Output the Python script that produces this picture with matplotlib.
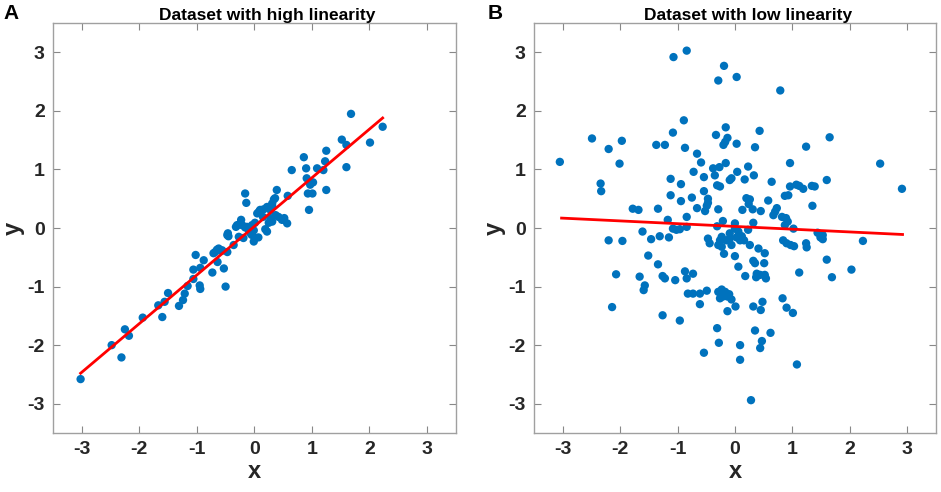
import numpy as np
import matplotlib
matplotlib.use("Agg")
import matplotlib.pyplot as plt

plt.rcParams['font.family'] = ['Liberation Sans', 'DejaVu Sans']

# panel A: high linearity
xa = [-3.02, -2.48, -2.31, -2.25, -2.18, -1.94, -1.67, -1.60, -1.56, -1.50,
      -1.31, -1.24, -1.21, -1.16, -1.06, -1.06, -1.02, -0.95, -0.94, -0.94,
      -0.88, -0.73, -0.71, -0.68, -0.65, -0.64, -0.62, -0.57, -0.53, -0.50,
      -0.47, -0.46, -0.45, -0.36, -0.32, -0.30, -0.27, -0.25, -0.23, -0.21,
      -0.19, -0.16, -0.14, -0.16, -0.13, -0.10, -0.06, -0.04, -0.04, -0.01,
      -0.01, 0.01, 0.05, 0.07, 0.08, 0.10, 0.15, 0.16, 0.19, 0.22,
      0.22, 0.25, 0.28, 0.28, 0.31, 0.31, 0.31, 0.34, 0.36, 0.37,
      0.39, 0.42, 0.48, 0.52, 0.57, 0.58, 0.65, 0.86, 0.90, 0.91,
      0.93, 0.95, 0.97, 1.01, 1.02, 1.09, 1.20, 1.23, 1.25, 1.25,
      1.52, 1.60, 1.60, 1.68, 2.01, 2.23, -0.56, -0.47]
ya = [-2.58, -2.00, -2.21, -1.73, -1.84, -1.53, -1.32, -1.52, -1.26, -1.11,
      -1.33, -1.23, -1.12, -0.99, -0.87, -0.71, -0.46, -0.98, -1.04, -0.68,
      -0.55, -0.76, -0.43, -0.41, -0.37, -0.58, -0.35, -0.39, -0.69, -1.00,
      -0.41, -0.09, -0.14, -0.29, 0.02, 0.05, -0.15, 0.06, 0.14, 0.05,
      -0.17, 0.59, 0.43, 0.01, 0.02, -0.03, -0.10, 0.05, -0.12, -0.23,
      -0.04, 0.09, 0.25, -0.16, 0.28, 0.31, 0.19, 0.32, -0.02, -0.06,
      0.36, 0.09, 0.17, 0.31, 0.37, 0.42, 0.11, 0.49, 0.51, 0.22,
      0.65, 0.19, 0.14, 0.17, 0.08, 0.55, 0.99, 1.21, 1.02, 0.85,
      0.59, 0.31, 0.74, 0.59, 0.78, 1.02, 0.99, 1.14, 1.32, 0.65,
      1.51, 1.42, 1.04, 1.95, 1.46, 1.73, -0.38, -0.12]
fit_a_x = [-3.02, 2.23]
fit_a_y = [-2.48, 1.88]

# panel B: low linearity
xb = [-1.07, -0.84, -0.19, -0.29, 0.03, 0.79, -0.89, -0.16, 0.43, -2.49,
      -1.08, -0.33, -0.13, 1.65, -1.97, -2.20, -1.37, -1.22, -0.87, -0.20,
      -0.17, 0.03, 0.35, 1.24,
      -3.05, -2.01, -0.66, -0.59, -0.16, 0.96, 2.53, -0.38, -0.27, 0.23,
      -0.72, 0.04, -0.35, 0.33, -0.54, -0.06, -0.09, 0.17, -1.12, 0.64,
      1.60, -2.34, -2.33, -0.94, -0.31, -0.26, 0.96, 1.07, 1.12, 1.19,
      1.34, 1.39, 2.91, -0.54,
      -1.12, 0.87, 0.93, -0.75, -0.47, 0.20, 0.26, -0.94, 0.58, 0.24,
      -0.49, -0.47, 1.35, -0.66, -1.78, -1.68, -1.34, -0.29, -0.52, 0.13,
      0.31, 0.45, 0.73, 0.70, 0.67,
      -0.84, 0.82, 0.89, -1.17, -0.21, 0.92, 0.32, 0.00, -0.31, -0.84,
      -1.08, -1.02, -0.96, 0.87, 1.02, 0.00, 0.06, 0.23, -1.61, -0.09,
      0.12, -1.31, -1.15, -1.46, -0.47, -0.23, -0.26, -0.15, -0.09, 0.03,
      0.09, 0.16, 1.44, 1.53, 1.49, 1.53, -2.20, -1.96, 2.23,
      -0.44, 0.84, 0.90, 0.97, 1.03, 1.24, 1.25, -0.29, -0.23, -0.06,
      0.26, 0.41, -0.19, 0.52, -1.51, 0.00, 1.60, 0.32, 0.35, -1.34,
      0.51, 0.06,
      2.03, -2.07, -0.87, -0.73, -0.84, 1.12, 0.38, 0.44, 0.52, 0.54,
      0.37, 0.18, -1.26, -1.22, -1.66, 1.69, -1.04, -1.57,
      -1.59, -0.49, -0.29, -0.23, -0.17, -0.26, -0.21, -0.13, -0.06, -0.10,
      -0.82, -0.73, -0.61, 0.83, -0.61, 0.48, 0.01, 0.32, -2.14, 0.90,
      0.45, -0.13, 1.01, -1.26,
      -0.96, -0.31, 0.35, 0.62, -0.28, 0.47, 0.09, 0.44, -0.54, 0.09,
      1.08, 0.28]
yb = [2.92, 3.03, 2.77, 2.52, 2.58, 2.35, 1.84, 1.72, 1.66, 1.53,
      1.63, 1.59, 1.54, 1.55, 1.49, 1.35, 1.42, 1.42, 1.37, 1.42,
      1.47, 1.44, 1.38, 1.39,
      1.13, 1.10, 1.27, 1.12, 1.11, 1.11, 1.10, 1.02, 1.04, 1.05,
      0.96, 0.96, 0.90, 0.90, 0.87, 0.85, 0.82, 0.83, 0.84, 0.79,
      0.82, 0.76, 0.63, 0.75, 0.73, 0.71, 0.71, 0.74, 0.72, 0.67,
      0.72, 0.71, 0.67, 0.63,
      0.56, 0.55, 0.56, 0.52, 0.50, 0.51, 0.49, 0.46, 0.47, 0.41,
      0.38, 0.43, 0.38, 0.34, 0.33, 0.31, 0.33, 0.32, 0.29, 0.31,
      0.32, 0.29, 0.34, 0.28, 0.22,
      0.19, 0.19, 0.17, 0.14, 0.12, 0.11, 0.09, 0.08, 0.03, 0.02,
      -0.01, -0.03, -0.02, 0.05, -0.01, -0.01, -0.06, -0.03, -0.06, -0.09,
      -0.14, -0.14, -0.16, -0.19, -0.18, -0.15, -0.21, -0.21, -0.18, -0.16,
      -0.21, -0.21, -0.08, -0.12, -0.16, -0.19, -0.21, -0.22, -0.22,
      -0.26, -0.21, -0.26, -0.29, -0.31, -0.26, -0.33, -0.29, -0.32, -0.29,
      -0.29, -0.35, -0.44, -0.43, -0.47, -0.48, -0.54, -0.56, -0.60, -0.62,
      -0.60, -0.66,
      -0.71, -0.79, -0.74, -0.78, -0.86, -0.76, -0.78, -0.80, -0.80, -0.86,
      -0.84, -0.82, -0.82, -0.86, -0.83, -0.84, -0.89, -0.98,
      -1.06, -1.07, -1.09, -1.05, -1.09, -1.20, -1.17, -1.17, -1.22, -1.13,
      -1.12, -1.12, -1.12, -1.20, -1.30, -1.26, -1.34, -1.34, -1.35, -1.36,
      -1.40, -1.42, -1.45, -1.49,
      -1.58, -1.71, -1.75, -1.79, -1.96, -1.93, -2.00, -2.05, -2.13, -2.25,
      -2.33, -2.94]
fit_b_x = [-3.02, 2.92]
fit_b_y = [0.17, -0.11]

ticks = [-3, -2, -1, 0, 1, 2, 3]
dot_color = '#0072BD'

fig = plt.figure(figsize=(9.41, 4.92), dpi=100)
ax_a = fig.add_axes([0.0563, 0.120, 0.428, 0.833])
ax_b = fig.add_axes([0.5675, 0.120, 0.427, 0.833])

panels = [(ax_a, xa, ya, fit_a_x, fit_a_y, 'Dataset with high linearity', 'A', 0.004),
          (ax_b, xb, yb, fit_b_x, fit_b_y, 'Dataset with low linearity', 'B', 0.518)]

for ax, xs, ys, fx, fy, title, letter, lx in panels:
    ax.scatter(xs, ys, s=36, color=dot_color, edgecolors='none', zorder=2)
    ax.plot(fx, fy, color='#FF0000', lw=2, zorder=3)
    ax.set_xlim(-3.5, 3.5)
    ax.set_ylim(-3.5, 3.5)
    ax.set_xticks(ticks)
    ax.set_yticks(ticks)
    ax.set_xticklabels([str(t) for t in ticks], fontsize=14, fontweight='bold', color='#262626')
    ax.set_yticklabels([str(t) for t in ticks], fontsize=14, fontweight='bold', color='#262626')
    ax.tick_params(direction='in', length=5, width=0.8, color='#888888',
                   top=True, right=True, pad=6)
    for sp in ax.spines.values():
        sp.set_color('#A0A0A0')
        sp.set_linewidth(1.0)
    ax.set_xlabel('x', fontsize=17, fontweight='bold', color='#262626', labelpad=1)
    ax.set_ylabel('y', fontsize=17, fontweight='bold', color='#262626', labelpad=2)
    ax.set_title(title, fontsize=12.5, fontweight='bold', color='black', pad=2, x=0.532)
    fig.text(lx, 0.992, letter, fontsize=15, fontweight='bold', ha='left', va='top')

fig.savefig('out.png', dpi=100)
